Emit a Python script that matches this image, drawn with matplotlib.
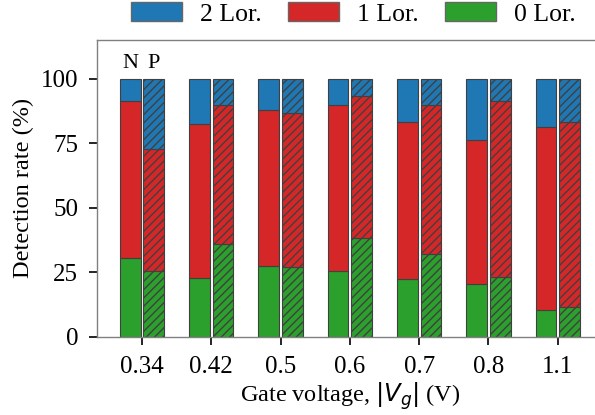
import matplotlib
matplotlib.use("Agg")
import matplotlib.pyplot as plt
import numpy as np
from matplotlib.patches import Patch

plt.rcParams["font.family"] = ["Liberation Serif", "DejaVu Serif"]
plt.rcParams["hatch.linewidth"] = 1.0

voltages = ["0.34", "0.42", "0.5", "0.6", "0.7", "0.8", "1.1"]

# N-type (plain bars), percent
n_zero = [30.5, 22.7, 27.4, 25.6, 22.3, 20.5, 10.3]
n_one = [60.7, 59.8, 60.5, 64.2, 60.9, 55.7, 70.8]
n_two = [8.8, 17.5, 12.1, 10.2, 16.8, 23.8, 18.9]

# P-type (hatched bars), percent
p_zero = [25.6, 35.9, 26.9, 38.5, 32.3, 23.3, 11.7]
p_one = [47.1, 53.9, 59.7, 54.8, 57.5, 68.2, 71.4]
p_two = [27.3, 10.2, 13.4, 6.7, 10.2, 8.5, 16.9]

c_two = "#1f77b4"
c_one = "#d62728"
c_zero = "#2ca02c"

x = np.arange(len(voltages))
w = 0.3
off = 0.17

fig = plt.figure(figsize=(5.95, 4.15), dpi=100)
# axes runs a bit past the right edge, so the right spine is cut off
ax = fig.add_axes([0.163, 0.188, 0.85, 0.716])

edge = dict(edgecolor="0.25", linewidth=0.8)

ax.bar(x - off, n_zero, w, color=c_zero, **edge)
ax.bar(x - off, n_one, w, bottom=n_zero, color=c_one, **edge)
ax.bar(x - off, n_two, w, bottom=np.add(n_zero, n_one), color=c_two, **edge)

ax.bar(x + off, p_zero, w, color=c_zero, hatch="////", **edge)
ax.bar(x + off, p_one, w, bottom=p_zero, color=c_one, hatch="////", **edge)
ax.bar(x + off, p_two, w, bottom=np.add(p_zero, p_one), color=c_two, hatch="////", **edge)

ax.text(x[0] - off, 104, "N", ha="center", va="baseline", fontsize=16)
ax.text(x[0] + off, 104, "P", ha="center", va="baseline", fontsize=16)

ax.set_xlim(-0.65, 6.65)
ax.set_ylim(0, 115)
ax.set_xticks(x)
ax.set_xticklabels(voltages)
ax.set_yticks([0, 25, 50, 75, 100])
ax.tick_params(labelsize=18, length=6, width=1.2, pad=7.5)
ax.set_ylabel("Detection rate (%)", fontsize=17.5, labelpad=5)
ax.set_xlabel("Gate voltage, $|V_g|$ (V)", fontsize=17.5, labelpad=2)

for s in ax.spines.values():
    s.set_color("0.5")
    s.set_linewidth(1.0)

handles = [Patch(facecolor=c_two, edgecolor="0.4", label="2 Lor."),
           Patch(facecolor=c_one, edgecolor="0.4", label="1 Lor."),
           Patch(facecolor=c_zero, edgecolor="0.4", label="0 Lor.")]
fig.legend(handles=handles, loc="center", bbox_to_anchor=(0.594, 1 - 14 / 415),
           ncol=3, frameon=False, fontsize=18.5, handlelength=2.0,
           handleheight=0.74, handletextpad=0.7, columnspacing=1.0)

fig.savefig("out.png", dpi=100)
